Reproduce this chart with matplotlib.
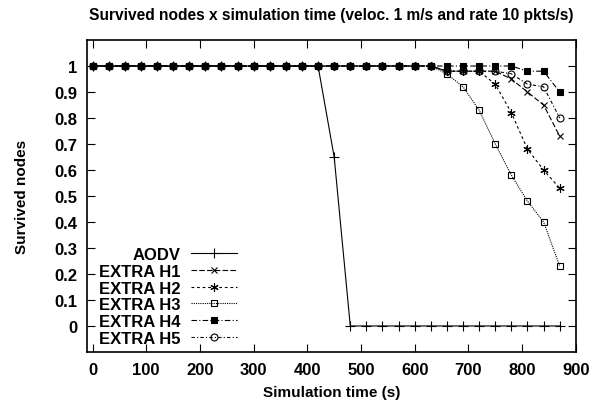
import numpy as np
import matplotlib.pyplot as plt

plt.rcParams['font.family'] = ['Liberation Sans', 'DejaVu Sans']
plt.rcParams['font.weight'] = 'bold'

time = np.arange(0, 871, 30)

aodv = [1]*15 + [0.65] + [0]*14
extra_h1 = [1]*22 + [0.98, 0.98, 0.98, 0.98, 0.95, 0.90, 0.85, 0.73]
extra_h2 = [1]*22 + [0.98, 0.98, 0.98, 0.93, 0.82, 0.68, 0.60, 0.53]
extra_h3 = [1]*22 + [0.97, 0.92, 0.83, 0.70, 0.58, 0.48, 0.40, 0.23]
extra_h4 = [1]*27 + [0.98, 0.98, 0.90]
extra_h5 = [1]*22 + [0.98, 0.98, 0.98, 0.98, 0.97, 0.93, 0.92, 0.80]

names = ['AODV', 'EXTRA H1', 'EXTRA H2', 'EXTRA H3', 'EXTRA H4', 'EXTRA H5']
series = [aodv, extra_h1, extra_h2, extra_h3, extra_h4, extra_h5]

styles = [
    dict(marker='+', ls='-', mfc='black', ms=7),
    dict(marker='x', ls=(0, (5, 2)), mfc='black', ms=5),
    dict(marker=(6, 2, 0), ls=(0, (2.5, 2.5)), mfc='black', ms=6),
    dict(marker='s', ls=(0, (1, 1)), mfc='none', ms=5),
    dict(marker='s', ls=(0, (5, 2, 1, 2)), mfc='black', ms=5),
    dict(marker='o', ls=(0, (3, 2, 1, 2)), mfc='none', ms=5),
]

fig = plt.figure(figsize=(5.93, 4.02), dpi=100)
ax = fig.add_axes([0.147, 0.122, 0.824, 0.776])

for name, vals, st in zip(names, series, styles):
    ax.plot(time, vals, color='black', lw=0.8, mec='black', mew=0.8,
            label=name, **st)

ax.set_xlim(-10, 900)
ax.set_ylim(-0.1, 1.1)
ax.set_xticks(np.arange(0, 901, 100))
yt = np.round(np.arange(0, 1.01, 0.1), 1)
ax.set_yticks(yt)
ax.set_yticklabels([f'{v:g}' for v in yt])
ax.tick_params(direction='in', length=6, width=0.8, top=True, right=True,
               labelsize=12, pad=7)
for s in ax.spines.values():
    s.set_linewidth(1.2)

ax.set_xlabel('Simulation time (s)', fontsize=11, fontweight='bold', labelpad=6)
ax.set_ylabel('Survived nodes', fontsize=11, fontweight='bold', labelpad=18)
ax.set_title('Survived nodes x simulation time (veloc. 1 m/s and rate 10 pkts/s)',
             fontsize=11.2, fontweight='bold', pad=15)

leg = ax.legend(loc='lower left', bbox_to_anchor=(0.018, 0.01), frameon=False,
                markerfirst=False, handlelength=2.8, handletextpad=0.6,
                labelspacing=0.1, borderaxespad=0.0, borderpad=0.2,
                prop={'weight': 'bold', 'size': 12})
for col in leg._legend_handle_box.get_children():
    col.align = 'right'

fig.savefig('out.png', dpi=100)
